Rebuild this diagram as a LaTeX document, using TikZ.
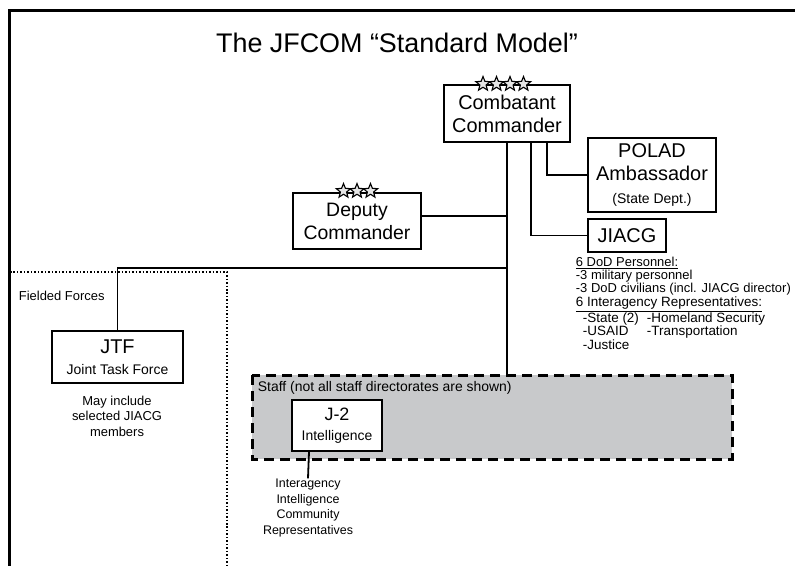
\documentclass[tikz,border=0pt]{standalone}
\usepackage{fontspec}
\setmainfont{Liberation Sans}
\usetikzlibrary{shapes.geometric,positioning}
\definecolor{staffgray}{RGB}{200,201,203}
\newcommand{\fsz}[2]{\fontsize{#1}{#2}\selectfont}

\begin{document}
\begin{tikzpicture}[x=1bp,y=-1bp,line width=1.8bp,
    every node/.style={inner sep=0pt,align=center},
    unit/.style={draw,fill=white,line width=1.9bp},
    rank/.style={star,star points=5,star point ratio=2.3,draw,fill=gray!20,
      line width=1.1bp,minimum size=15bp,inner sep=0pt},
    note/.style={font=\fsz{13}{15.5}}]
  \useasboundingbox(0,0)rectangle(795,566);
  % frame and fielded forces
  \draw[line width=3bp](9,566)--(9,11)--(795,11);
  \draw[dotted,line width=1.5bp](10,272)--(227,272)--(227,566);
  \node[anchor=west,font=\fsz{13}{15}](ff)at(18,296){Fielded Forces};
  \node(title)at(397,43){\fsz{27}{30}The JFCOM “Standard Model”};
  % staff area
  \draw[dashed,dash pattern=on 10bp off 6bp,line width=3bp,fill=staffgray]
    (252,375)rectangle(732,459);
  \coordinate(staff)at(492,375);
  \node[anchor=west,font=\fsz{14}{16}](stafflbl)at(257,388)
    {Staff (not all staff directorates are shown)};
  % units
  \node[unit,minimum width=126bp,minimum height=57bp,font=\fsz{20}{23}]
    (comb)at(507,113.5){Combatant\\Commander};
  \node[unit,minimum width=128bp,minimum height=74bp,font=\fsz{20}{23}]
    (polad)at(652,175){POLAD\\Ambassador\\{\fsz{14}{17}(State Dept.)}};
  \node[unit,minimum width=78bp,minimum height=33bp,font=\fsz{20}{23}]
    (jiacg)at(627,235.5){JIACG};
  \node[unit,minimum width=128bp,minimum height=56bp,font=\fsz{19.5}{23}]
    (deputy)at(357,221){Deputy\\Commander};
  \node[unit,minimum width=131bp,minimum height=52bp,font=\fsz{20}{21}]
    (jtf)at(117.5,357){JTF\\{\fsz{14}{17}Joint Task Force}};
  \node[unit,minimum width=90bp,minimum height=51bp,font=\fsz{18}{20}]
    (jtwo)at(337,425.5){J-2\\{\fsz{14}{17}Intelligence}};
  % stars
  \foreach \i in {0,...,3}
    \node[rank]at(483+\i*13.5,84){};
  \foreach \i in {0,...,2}
    \node[rank]at(343.5+\i*13.5,191){};
  % connectors
  \draw(comb.south)--(comb.south|-staff);
  \draw([xshift=40bp]comb.south)|-(polad.west);
  \draw([xshift=24bp]comb.south)|-(jiacg.west);
  \draw([yshift=5bp]deputy.east)--([yshift=5bp]deputy.east-|comb.south);
  \draw(comb.south|-0,268)-|(jtf.north);
  % notes
  \node[note](jtfnote)at(117,416){May include\\selected JIACG\\members};
  \node[font=\fsz{12.5}{15.5}](reps)at(308,508)
    {Interagency\\Intelligence\\Community\\Representatives};
  \draw([xshift=-28bp]jtwo.south)--(reps.north);
  \node[anchor=north west,align=left,font=\fsz{13}{13}](dod)at(575,256)
    {\underline{6 DoD Personnel:}\\-3 military personnel\\
     -3 DoD civilians (incl. JIACG director)};
  \node[anchor=north west,align=left,font=\fsz{13.5}{12.5}](iar)at(575,296)
    {\underline{6 Interagency Representatives:}\\
     \hspace{7bp}\begin{tabular}{@{}l@{\hspace{8bp}}l@{}}
       -State (2)&-Homeland Security\\-USAID&-Transportation\\-Justice&
     \end{tabular}};
\end{tikzpicture}
\end{document}
